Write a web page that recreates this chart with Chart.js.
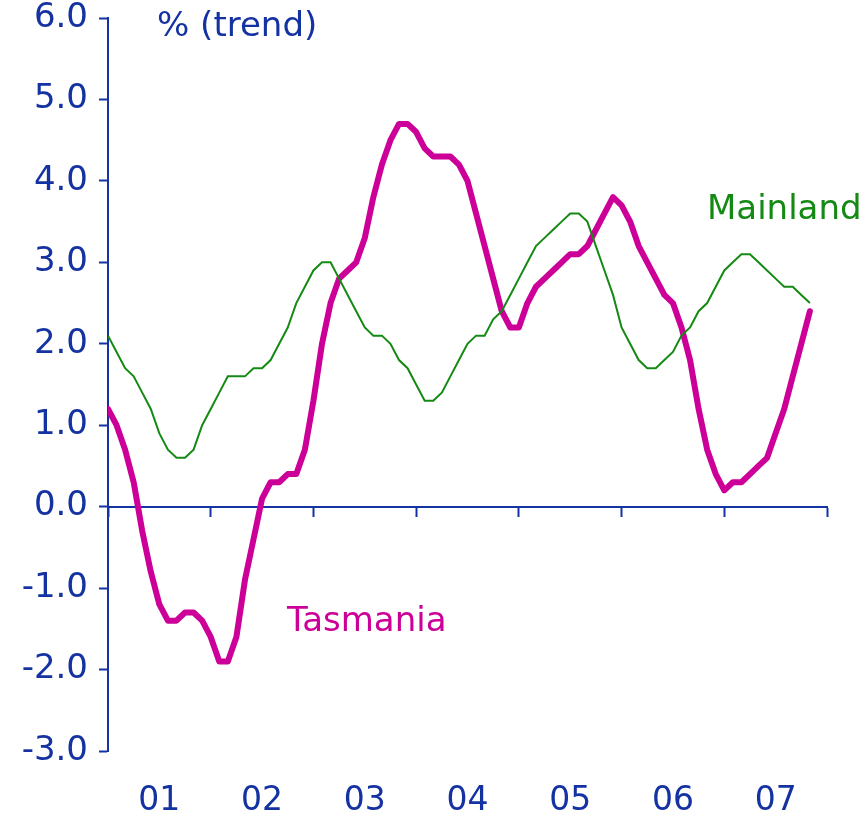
<!DOCTYPE html>
<html>
<head>
<meta charset="utf-8">
<script src="https://cdn.jsdelivr.net/npm/chart.js@4.4.0/dist/chart.umd.min.js"></script>
<style>
  html, body { margin: 0; padding: 0; background: #ffffff; }
  #wrap { width: 863px; height: 817px; position: relative; }
</style>
</head>
<body>
<div id="wrap"><canvas id="mainChart"></canvas></div>
<script>
// mensual, ene 2001 .. nov 2007
const yearLabels = ['01', '02', '03', '04', '05', '06', '07'];
const yTicks = [-3, -2, -1, 0, 1, 2, 3, 4, 5, 6];

const mainland = [
    2.1, 1.9, 1.7, 1.6, 1.4, 1.2, 0.9, 0.7, 0.6, 0.6, 0.7, 1.0,
    1.2, 1.4, 1.6, 1.6, 1.6, 1.7, 1.7, 1.8, 2.0, 2.2, 2.5, 2.7,
    2.9, 3.0, 3.0, 2.8, 2.6, 2.4, 2.2, 2.1, 2.1, 2.0, 1.8, 1.7,
    1.5, 1.3, 1.3, 1.4, 1.6, 1.8, 2.0, 2.1, 2.1, 2.3, 2.4, 2.6,
    2.8, 3.0, 3.2, 3.3, 3.4, 3.5, 3.6, 3.6, 3.5, 3.2, 2.9, 2.6,
    2.2, 2.0, 1.8, 1.7, 1.7, 1.8, 1.9, 2.1, 2.2, 2.4, 2.5, 2.7,
    2.9, 3.0, 3.1, 3.1, 3.0, 2.9, 2.8, 2.7, 2.7, 2.6, 2.5
];

const tasmania = [
    1.2, 1.0, 0.7, 0.3, -0.3, -0.8, -1.2, -1.4, -1.4, -1.3, -1.3, -1.4,
    -1.6, -1.9, -1.9, -1.6, -0.9, -0.4, 0.1, 0.3, 0.3, 0.4, 0.4, 0.7,
    1.3, 2.0, 2.5, 2.8, 2.9, 3.0, 3.3, 3.8, 4.2, 4.5, 4.7, 4.7,
    4.6, 4.4, 4.3, 4.3, 4.3, 4.2, 4.0, 3.6, 3.2, 2.8, 2.4, 2.2,
    2.2, 2.5, 2.7, 2.8, 2.9, 3.0, 3.1, 3.1, 3.2, 3.4, 3.6, 3.8,
    3.7, 3.5, 3.2, 3.0, 2.8, 2.6, 2.5, 2.2, 1.8, 1.2, 0.7, 0.4,
    0.2, 0.3, 0.3, 0.4, 0.5, 0.6, 0.9, 1.2, 1.6, 2.0, 2.4
];

const BLUE = '#1432A2';
const GREEN = '#148A14';
const MAGENTA = '#CC0099';
const FONT = 'DejaVu Sans';

function toPoints(arr) {
    return arr.map((v, i) => ({ x: i, y: v }));
}

// textos sueltos dentro del gráfico
const notesPlugin = {
    id: 'notes',
    afterDraw(chart) {
        const ctx = chart.ctx;
        ctx.save();
        ctx.font = '34px "' + FONT + '"';
        ctx.textBaseline = 'middle';
        ctx.textAlign = 'left';
        ctx.fillStyle = BLUE;
        ctx.fillText('% (trend)', 157, 27);
        ctx.fillStyle = GREEN;
        ctx.fillText('Mainland', 707, 210);
        ctx.fillStyle = MAGENTA;
        ctx.fillText('Tasmania', 287, 622);
        ctx.restore();
    }
};

new Chart(document.getElementById('mainChart').getContext('2d'), {
    type: 'line',
    data: {
        datasets: [
            {
                label: 'Mainland',
                data: toPoints(mainland),
                borderColor: GREEN,
                borderWidth: 2,
                pointRadius: 0,
                tension: 0
            },
            {
                label: 'Tasmania',
                data: toPoints(tasmania),
                borderColor: MAGENTA,
                borderWidth: 6,
                pointRadius: 0,
                tension: 0,
                borderJoinStyle: 'round',
                borderCapStyle: 'round'
            }
        ]
    },
    options: {
        responsive: true,
        maintainAspectRatio: false,
        animation: false,
        layout: { padding: { top: 18, right: 36, left: 0, bottom: 0 } },
        plugins: {
            legend: { display: false },
            tooltip: { enabled: false }
        },
        scales: {
            x: {
                type: 'linear',
                min: 0,
                max: 84,
                position: { y: 0 },
                afterBuildTicks: s => { s.ticks = yearLabels.concat(['']).map((_, i) => ({ value: i * 12 })); },
                ticks: { display: false },
                grid: {
                    drawOnChartArea: false,
                    drawTicks: true,
                    tickLength: 9,
                    tickWidth: 2,
                    color: BLUE
                },
                border: { display: true, color: BLUE, width: 2 }
            },
            x2: {
                type: 'linear',
                min: 0,
                max: 84,
                position: 'bottom',
                afterBuildTicks: s => { s.ticks = yearLabels.map((_, i) => ({ value: i * 12 + 6 })); },
                afterFit: s => { s.height = 66; s.paddingLeft = 0; s.paddingRight = 0; },
                ticks: {
                    autoSkip: false,
                    maxRotation: 0,
                    padding: 31,
                    color: BLUE,
                    font: { family: FONT, size: 33 },
                    callback: (v) => yearLabels[Math.round((v - 6) / 12)]
                },
                grid: { display: false, drawTicks: false },
                border: { display: false }
            },
            y: {
                min: -3,
                max: 6,
                position: 'left',
                afterBuildTicks: s => { s.ticks = yTicks.map(v => ({ value: v })); },
                afterFit: s => { s.width = 108; s.paddingTop = 0; s.paddingBottom = 0; },
                ticks: {
                    color: BLUE,
                    padding: 11,
                    font: { family: FONT, size: 34 },
                    callback: v => v.toFixed(1)
                },
                grid: {
                    drawOnChartArea: false,
                    drawTicks: true,
                    tickLength: 9,
                    tickWidth: 2,
                    color: BLUE
                },
                border: { display: true, color: BLUE, width: 2 }
            }
        }
    },
    plugins: [notesPlugin]
});
</script>
</body>
</html>
